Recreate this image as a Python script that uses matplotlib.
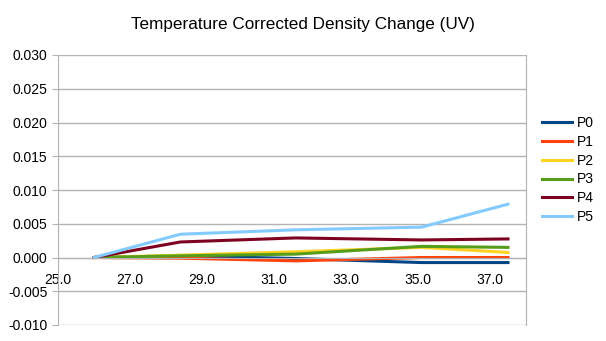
import matplotlib.pyplot as plt
import numpy as np

plt.rcParams['font.family'] = ['Liberation Sans', 'DejaVu Sans']

temps = [26.0, 28.4, 31.6, 35.1, 37.5]
p0 = [0.0, 0.00025, -0.00015, -0.00075, -0.00075]
p1 = [0.0, -0.0001, -0.0005, 0.0, 0.0]
p2 = [0.0, 0.00035, 0.00085, 0.0015, 0.00075]
p3 = [0.0, 0.00025, 0.0005, 0.00165, 0.0015]
p4 = [0.0, 0.0023, 0.0029, 0.0026, 0.00275]
p5 = [0.0, 0.00345, 0.0041, 0.0045, 0.0079]
names = ["P0", "P1", "P2", "P3", "P4", "P5"]
colors = ["#004586", "#ff420e", "#ffd320", "#579d1c", "#7e0021", "#83caff"]

fig = plt.figure(figsize=(6.06, 3.41), dpi=100)
ax = fig.add_axes([58/606, 16/341, 468/606, 270/341])

for name, vals, c in zip(names, [p0, p1, p2, p3, p4, p5], colors):
    ax.plot(temps, vals, color=c, linewidth=2.2, label=name)

ax.set_xlim(25, 38)
ax.set_ylim(-0.010, 0.030)
ax.set_xticks(np.arange(25, 38, 2))
ax.set_xticklabels(["%.1f" % t for t in np.arange(25, 38, 2)])
ax.set_yticks(np.arange(-0.010, 0.0301, 0.005))
ax.set_yticklabels(["%.3f" % v for v in np.arange(-0.010, 0.0301, 0.005)])
ax.yaxis.grid(True, color="#b3b3b3", linewidth=1)
ax.set_axisbelow(True)

ax.spines["top"].set_visible(False)
ax.spines["left"].set_color("#b3b3b3")
ax.spines["right"].set_color("#b3b3b3")
ax.spines["bottom"].set_color("#b3b3b3")
ax.spines["bottom"].set_position(("data", 0))
ax.tick_params(axis="y", colors="#b3b3b3", labelcolor="black", labelsize=10, length=4)
ax.tick_params(axis="x", colors="#b3b3b3", labelcolor="black", labelsize=10, length=0, pad=11)

fig.text(0.5, 1 - 25/341, "Temperature Corrected Density Change (UV)",
         fontsize=12.3, ha="center", va="center")

ax.legend(loc="center left", bbox_to_anchor=(1.013, (341 - 170 - 16) / 270), frameon=False,
          fontsize=10, handlelength=2.2, handletextpad=0.3, labelspacing=0.35,
          borderaxespad=0.3)

fig.savefig("out.png", dpi=100)
